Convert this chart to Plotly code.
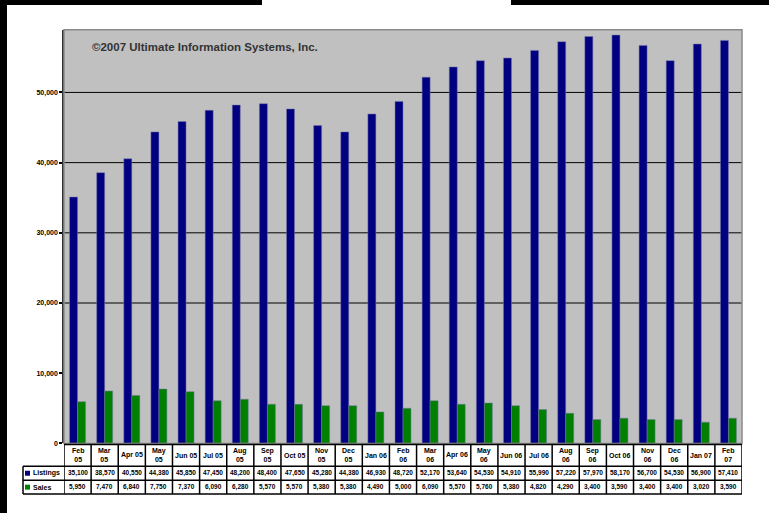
import plotly.graph_objects as go

W, H = 769, 516

categories = ["Feb 05", "Mar 05", "Apr 05", "May 05", "Jun 05", "Jul 05", "Aug 05",
              "Sep 05", "Oct 05", "Nov 05", "Dec 05", "Jan 06", "Feb 06", "Mar 06",
              "Apr 06", "May 06", "Jun 06", "Jul 06", "Aug 06", "Sep 06", "Oct 06",
              "Nov 06", "Dec 06", "Jan 07", "Feb 07"]
listings = [35100, 38570, 40550, 44380, 45850, 47450, 48200, 48400, 47650, 45280,
            44380, 46930, 48720, 52170, 53640, 54530, 54910, 55990, 57220, 57970,
            58170, 56700, 54530, 56900, 57410]
sales = [5950, 7470, 6840, 7750, 7370, 6090, 6280, 5570, 5570, 5380, 5380, 4490,
         5000, 6090, 5570, 5760, 5380, 4820, 4290, 3400, 3590, 3400, 3400, 3020, 3590]
y_ticks = [0, 10000, 20000, 30000, 40000, 50000]
y_tick_labels = ["0", "10,000", "20,000", "30,000", "40,000", "50,000"]
grid_values = [20000, 30000, 40000, 50000]
series_names = ["Listings", "Sales"]
series_colors = ["#000080", "#008000"]
copyright_text = "©2007 Ultimate Information Systems, Inc."


def px_x(p):
    return p / W


def px_y(p):
    return 1 - p / H


def header_label(c):
    m, y = c.split()
    if m in ("Apr", "Jun", "Jul", "Oct", "Jan"):
        return "<b>%s %s</b>" % (m, y)
    return "<b>%s<br>%s</b>" % (m, y)


FONT = "Arial, Liberation Sans, sans-serif"

fig = go.Figure()
for name, vals, col in zip(series_names, [listings, sales], series_colors):
    fig.add_trace(go.Bar(x=categories, y=vals, name=name, marker_color=col,
                         marker_line=dict(width=1, color="rgba(120,120,170,0.5)"),
                         showlegend=False))

shapes = []
annotations = []

# background black bands
shapes.append(dict(type="rect", xref="paper", yref="paper", x0=0, x1=px_x(7), y0=0, y1=1,
                   fillcolor="black", line_width=0, layer="below"))
shapes.append(dict(type="rect", xref="paper", yref="paper", x0=0, x1=px_x(262), y0=px_y(5), y1=1,
                   fillcolor="black", line_width=0, layer="below"))
shapes.append(dict(type="rect", xref="paper", yref="paper", x0=px_x(511), x1=1, y0=px_y(5), y1=1,
                   fillcolor="black", line_width=0, layer="below"))

# gridlines
for g in grid_values:
    shapes.append(dict(type="line", xref="x domain", yref="y", x0=0, x1=1, y0=g, y1=g,
                       line=dict(color="black", width=1), layer="below"))
# plot frame
shapes.append(dict(type="rect", xref="x domain", yref="y domain", x0=0, x1=1, y0=0, y1=1,
                   line=dict(color="#8a8a8a", width=1.5), layer="above"))

# table geometry (pixels)
h_top, h_bot, r1_bot, r2_bot = 447, 469, 483, 497
leg_left, plot_left, plot_right = 23, 64, 742
lc = dict(color="black", width=1.5)

# horizontal lines
shapes.append(dict(type="line", xref="paper", yref="paper", x0=px_x(plot_left), x1=px_x(plot_right),
                   y0=px_y(h_top), y1=px_y(h_top), line=lc))
for yy in (h_bot, r1_bot, r2_bot):
    shapes.append(dict(type="line", xref="paper", yref="paper", x0=px_x(leg_left), x1=px_x(plot_right),
                       y0=px_y(yy), y1=px_y(yy), line=lc))
# vertical lines
shapes.append(dict(type="line", xref="paper", yref="paper", x0=px_x(leg_left), x1=px_x(leg_left),
                   y0=px_y(h_bot), y1=px_y(r2_bot), line=lc))
for i in range(len(categories) + 1):
    xv = i - 0.5
    shapes.append(dict(type="line", xref="x", yref="paper", x0=xv, x1=xv,
                       y0=px_y(h_top), y1=px_y(r2_bot), line=lc))

# cell text
for i, c in enumerate(categories):
    annotations.append(dict(x=i, y=px_y((h_top + h_bot) / 2), xref="x", yref="paper",
                            text=header_label(c), showarrow=False,
                            font=dict(size=7, color="black", family=FONT),
                            xanchor="center", yanchor="middle"))
    annotations.append(dict(x=i, y=px_y((h_bot + r1_bot) / 2), xref="x", yref="paper",
                            text="<b>%s</b>" % format(listings[i], ","), showarrow=False,
                            font=dict(size=6.5, color="black", family=FONT),
                            xanchor="center", yanchor="middle"))
    annotations.append(dict(x=i, y=px_y((r1_bot + r2_bot) / 2), xref="x", yref="paper",
                            text="<b>%s</b>" % format(sales[i], ","), showarrow=False,
                            font=dict(size=6.5, color="black", family=FONT),
                            xanchor="center", yanchor="middle"))

# legend column
for name, col, (t, b) in zip(series_names, series_colors, [(h_bot, r1_bot), (r1_bot, r2_bot)]):
    mid = (t + b) / 2
    shapes.append(dict(type="rect", xref="paper", yref="paper", x0=px_x(25), x1=px_x(30),
                       y0=px_y(mid + 2.5), y1=px_y(mid - 2.5), fillcolor=col, line_width=0))
    annotations.append(dict(x=px_x(31), y=px_y(mid), xref="paper", yref="paper",
                            text="<b>%s</b>" % name, showarrow=False,
                            font=dict(size=7, color="black", family=FONT),
                            xanchor="left", yanchor="middle"))

annotations.append(dict(x=px_x(90), y=px_y(47), xref="paper", yref="paper",
                        text="<b>%s</b>" % copyright_text, showarrow=False,
                        font=dict(size=11.5, color="#333333", family=FONT),
                        xanchor="left", yanchor="middle"))

fig.update_layout(
    width=W, height=H,
    margin=dict(l=0, r=0, t=0, b=0),
    paper_bgcolor="white",
    plot_bgcolor="#C0C0C0",
    barmode="group", bargap=0.41, bargroupgap=0,
    font=dict(family=FONT, color="black"),
    shapes=shapes,
    annotations=annotations,
    xaxis=dict(domain=[px_x(plot_left), px_x(plot_right)], type="category",
               range=[-0.5, len(categories) - 0.5], showticklabels=False,
               showgrid=False, zeroline=False, showline=False, ticks=""),
    yaxis=dict(domain=[px_y(446), px_y(30)], range=[0, 58920],
               tickvals=y_ticks, ticktext=["<b>%s</b>" % t for t in y_tick_labels],
               tickfont=dict(size=7, color="black", family=FONT),
               ticks="outside", ticklen=3, tickcolor="black", tickwidth=1.5,
               showline=True, linecolor="#333333", linewidth=1.5,
               showgrid=False, zeroline=False),
)

fig.write_html("out.html")
